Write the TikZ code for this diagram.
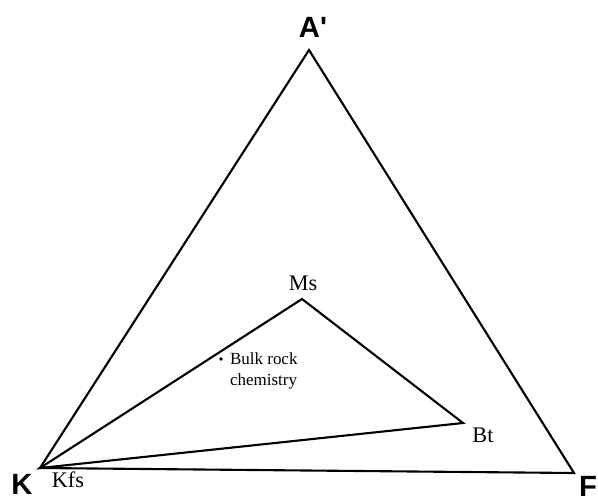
\documentclass[tikz,border=0pt]{standalone}
\usepackage{fontspec}
\setmainfont{Liberation Serif}
\setsansfont{Liberation Sans}
\usetikzlibrary{positioning}

\begin{document}
\begin{tikzpicture}[x=0.03cm, y=-0.03cm, line width=1.8pt, line join=miter,
        corner/.style={font=\sffamily\bfseries\fontsize{25}{25}\selectfont, inner sep=0pt},
        phase/.style={font=\fontsize{19}{19}\selectfont, inner sep=0pt},
        note/.style={font=\fontsize{14.5}{18}\selectfont, inner sep=0pt, align=left}]
        \useasboundingbox (0,0) rectangle (598,501);
        \coordinate (a) at (309,50);
        \coordinate (k) at (40,468);
        \coordinate (f) at (574,473);
        \coordinate (ms) at (302,299);
        \coordinate (bt) at (463,423);
        \coordinate (bulk) at (221,359);

        \node[corner] (la) at (313,27) {A\textquotesingle};
        \node[corner] (lk) at (22,484) {K};
        \node[corner] (lf) at (588,486) {F};
        \node[phase] (lkfs) at (68,480) {Kfs};
        \node[phase] (lms) at (303,283) {Ms};
        \node[phase] (lbt) at (483,435) {Bt};

        \fill (bulk) circle (1.8);
        \node[note, anchor=north west] (lbulk) at (229,352) {Bulk rock\\chemistry};

        \draw (a) -- (f) -- (k) -- cycle;
        \draw (k) -- (ms) -- (bt) -- cycle;
\end{tikzpicture}
\end{document}
